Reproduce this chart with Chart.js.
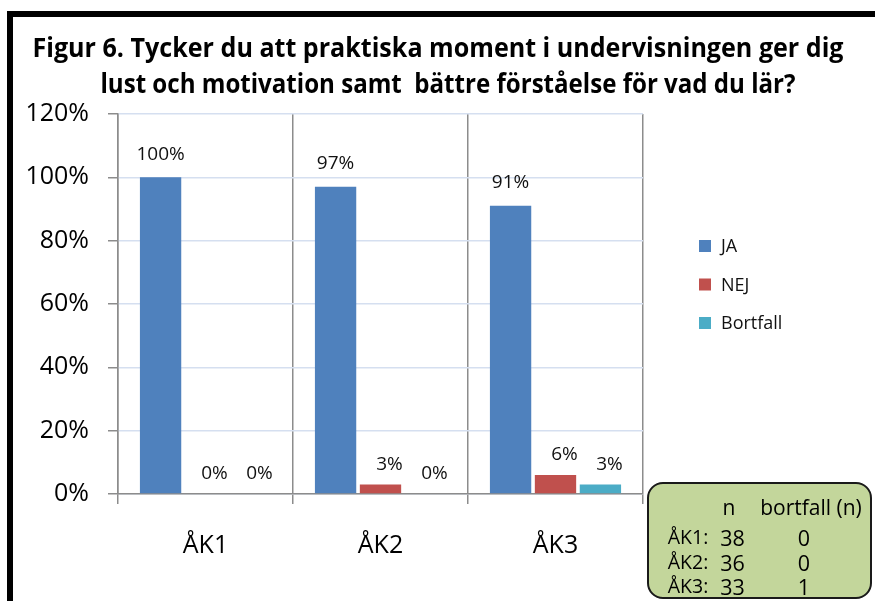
<!DOCTYPE html>
<html><head><meta charset="utf-8">
<script src="https://cdn.jsdelivr.net/npm/chart.js@4/dist/chart.umd.min.js"></script>
<style>
html,body{margin:0;padding:0;background:#fff;}
#wrap{position:relative;width:875px;height:601px;overflow:hidden;background:#fff;}
#c{position:absolute;left:0;top:0;}
#frame{position:absolute;left:7px;top:11px;width:920px;height:640px;border-left:6px solid #000;border-top:6px solid #000;box-sizing:border-box;pointer-events:none;}
.tl{position:absolute;white-space:pre;font-family:'Open Sans',sans-serif;font-weight:bold;font-size:26px;line-height:1;color:#000;}
#box{position:absolute;left:647px;top:482px;width:225px;height:117px;background:#C3D69B;border:2px solid #1a1a1a;border-radius:16px;box-sizing:border-box;}
.bt{position:absolute;white-space:pre;font-family:'Open Sans',sans-serif;color:#000;line-height:1;transform:translate(-50%,-50%);}
</style></head>
<body>
<div id="wrap">
<canvas id="c" width="875" height="601"></canvas>
<div id="frame"></div>
<div id="t1" class="tl">Figur 6. Tycker du att praktiska moment i undervisningen ger dig</div>
<div id="t2" class="tl">lust och motivation samt  bättre förståelse för vad du lär?</div>
<div id="box"></div>
</div>
<script>
const categories = ['ÅK1', 'ÅK2', 'ÅK3'];
const seriesNames = ['JA', 'NEJ', 'Bortfall'];
const jaValues = [100, 97, 91];
const nejValues = [0, 3, 6];
const bortfallValues = [0, 0, 3];
const yTickValues = [0, 20, 40, 60, 80, 100, 120];
const boxRowLabels = ['ÅK1:', 'ÅK2:', 'ÅK3:'];
const boxN = [38, 36, 33];
const boxBortfall = [0, 0, 1];
const colors = ['#4F81BD', '#C0504D', '#4BACC6'];

// Title lines: center and fit widths
function placeTitle(id, cx, cy, targetW){
  const el = document.getElementById(id);
  const w = el.getBoundingClientRect().width;
  const s = targetW / w;
  el.style.left = cx + 'px';
  el.style.top = cy + 'px';
  el.style.transform = 'translate(-50%,-50%) scaleX(' + s + ')';
}
placeTitle('t1', 437.5, 47, 811);
placeTitle('t2', 447.5, 83, 695);

// Info box
const box = document.getElementById('box');
function addBoxText(txt, x, y, size){
  const s = document.createElement('div');
  s.className = 'bt';
  s.textContent = txt;
  s.style.left = (x - 647) + 'px';
  s.style.top = (y - 482) + 'px';
  s.style.fontSize = size + 'px';
  box.appendChild(s);
}
addBoxText('n', 727, 505, 21);
addBoxText('bortfall (n)', 809, 505, 21);
const rowY = [535, 560, 584];
boxRowLabels.forEach((lab, i) => {
  addBoxText(lab, 686, rowY[i], 19.5);
  addBoxText(String(boxN[i]), 730.5, rowY[i] + 1, 21.5);
  addBoxText(String(boxBortfall[i]), 802, rowY[i] + 1, 21.5);
});

const dataLabelPlugin = {
  id: 'dataLabels',
  afterDatasetsDraw(chart){
    const ctx = chart.ctx;
    ctx.save();
    ctx.font = '19px "Open Sans"';
    ctx.fillStyle = '#111';
    ctx.textAlign = 'center';
    ctx.textBaseline = 'middle';
    chart.data.datasets.forEach((ds, i) => {
      const meta = chart.getDatasetMeta(i);
      meta.data.forEach((bar, j) => {
        const dx = i === 0 ? 0 : 9;
        const dy = i === 0 ? 23 : 20;
        ctx.fillText(ds.data[j] + '%', bar.x + dx, bar.y - dy);
      });
    });
    ctx.restore();
  }
};

const legendPlugin = {
  id: 'sideLegend',
  afterDraw(chart){
    const ctx = chart.ctx;
    ctx.save();
    ctx.font = '18px "Open Sans"';
    ctx.textAlign = 'left';
    ctx.textBaseline = 'middle';
    chart.data.datasets.forEach((ds, i) => {
      const cy = 246 + i * 38.5;
      ctx.fillStyle = ds.backgroundColor;
      ctx.fillRect(699, cy - 6, 12, 12);
      ctx.fillStyle = '#111';
      ctx.fillText(ds.label, 721, cy + 1);
    });
    ctx.restore();
  }
};

new Chart(document.getElementById('c'), {
  type: 'bar',
  data: {
    labels: categories,
    datasets: [
      {label: seriesNames[0], data: jaValues, backgroundColor: colors[0]},
      {label: seriesNames[1], data: nejValues, backgroundColor: colors[1]},
      {label: seriesNames[2], data: bortfallValues, backgroundColor: colors[2]}
    ]
  },
  options: {
    responsive: false,
    animation: false,
    devicePixelRatio: 1,
    layout: {padding: {top: 114, right: 232, bottom: 0, left: 0}},
    datasets: {bar: {categoryPercentage: 0.77, barPercentage: 0.92}},
    plugins: {legend: {display: false}, title: {display: false}, tooltip: {enabled: false}},
    scales: {
      x: {
        afterFit(s){ s.height = 107; },
        grid: {offset: true, color: '#8C8C8C', tickColor: '#8C8C8C', tickLength: 10, lineWidth: 1.5},
        border: {color: '#8C8C8C', width: 1.5},
        ticks: {font: {family: 'Open Sans', size: 25}, color: '#000', padding: 27}
      },
      y: {
        min: 0, max: 120,
        afterFit(s){ s.width = 118; },
        afterBuildTicks(s){ s.ticks = yTickValues.map(v => ({value: v})); },
        grid: {color: '#D5DFF0', tickColor: '#8C8C8C', tickLength: 10, lineWidth: 1.5},
        border: {color: '#8C8C8C', width: 1.5},
        ticks: {font: {family: 'Open Sans', size: 25}, color: '#000', padding: 19,
                callback: v => v + '%'}
      }
    }
  },
  plugins: [dataLabelPlugin, legendPlugin]
});
</script>
</body></html>
